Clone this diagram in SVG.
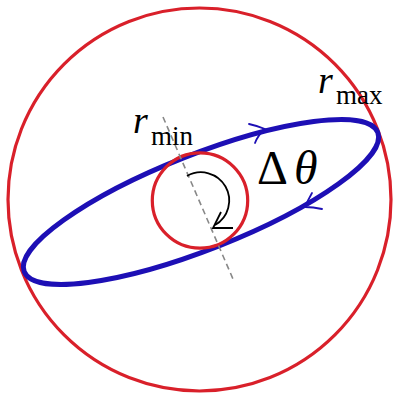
<svg xmlns="http://www.w3.org/2000/svg" width="394" height="396" viewBox="0 0 394 396">
<style>
.red{fill:none;stroke:#d9202a;stroke-width:3.2}
.orbit{fill:none;stroke:#1d0fb5;stroke-width:5}
.barb{fill:none;stroke:#1d0fb5;stroke-width:1.8;stroke-linecap:round}
.axis{fill:none;stroke:#888;stroke-width:1.6;stroke-dasharray:6 4}
.rot{fill:none;stroke:#000;stroke-width:1.8}
.lbl{font-family:"Liberation Serif","Times New Roman",serif;fill:#000}
.it{font-style:italic}
</style>
<rect width="394" height="396" fill="#fff"/>
<g id="rmax-circle"><circle class="red" cx="199.5" cy="199.5" r="191.5"/></g>
<g id="orbit"><ellipse class="orbit" cx="201" cy="202" rx="190" ry="47.5" transform="rotate(-21.5 201 202)"/></g>
<g id="rmin-circle"><circle class="red" cx="200" cy="200.5" r="47.7"/></g>
<g id="connectors">
<line class="axis" x1="163" y1="117" x2="233" y2="279"/>
<path class="barb" d="M249,124 Q258,126 265,129 Q258,135 255,143"/>
<path class="barb" d="M312,193 Q308,200 305,207 Q313,207 322,209"/>
<path class="rot" d="M187,176 A28,28 0 0 1 215,225"/>
<path class="rot" d="M221,212 Q217,220 213,228 L233,228"/>
</g>
<g id="labels">
<text class="lbl it" x="133" y="133" font-size="38">r</text>
<text class="lbl" x="151" y="145" font-size="27">min</text>
<text class="lbl it" x="318" y="93" font-size="38">r</text>
<text class="lbl" x="336" y="104" font-size="27">max</text>
<text class="lbl" x="257" y="184" font-size="48">Δ</text>
<text class="lbl it" x="294" y="184" font-size="48">θ</text>
</g>
</svg>
